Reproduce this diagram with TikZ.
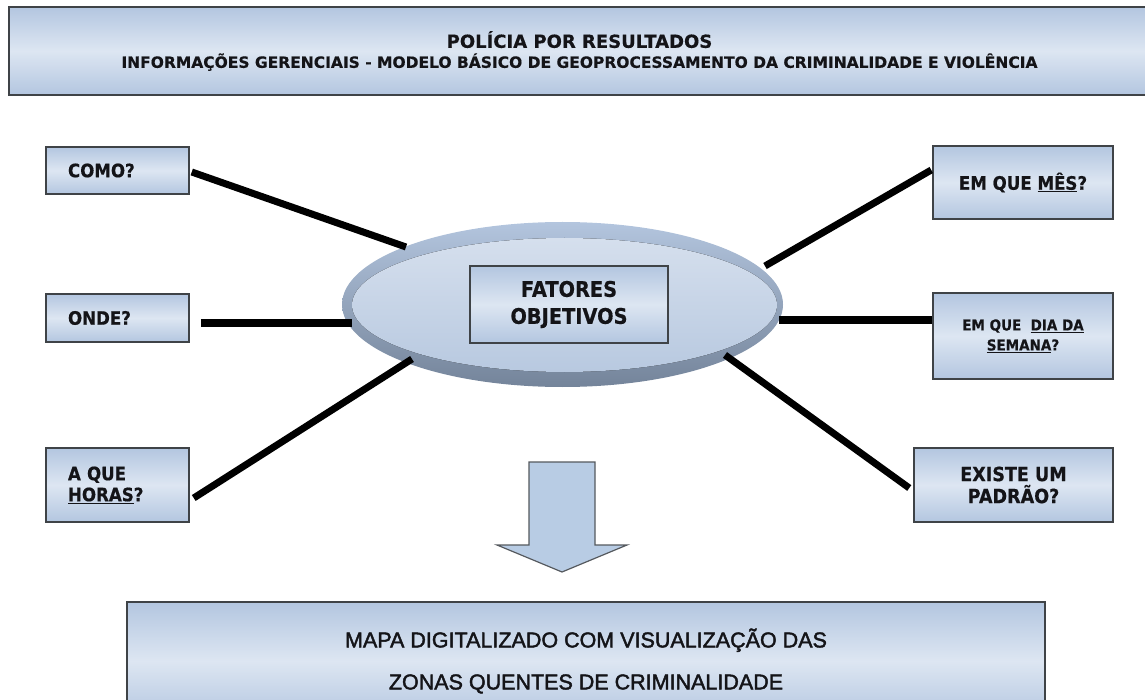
\documentclass[tikz,border=0pt]{standalone}
\usepackage{fontspec}
\setmainfont{DejaVu Sans}
\newfontfamily\qfont[FakeStretch=0.9,FakeBold=0.5]{DejaVu Sans Bold}
\newfontfamily\tfont[FakeBold=0.4]{DejaVu Sans Bold}
\newfontfamily\arialf[FakeBold=2]{Liberation Sans}
\usetikzlibrary{shapes.geometric,calc}
\definecolor{bdark}{HTML}{B3C6E0}
\definecolor{blight}{HTML}{DDE6F2}
\definecolor{edgec}{HTML}{3F4347}
\definecolor{discTop}{HTML}{B3C5DE}
\definecolor{discBot}{HTML}{74849A}
\definecolor{faceTop}{HTML}{D5DFED}
\definecolor{faceMid}{HTML}{D0DCEB}
\definecolor{faceBot}{HTML}{B8C9E0}
\definecolor{arrowfill}{HTML}{B8CCE4}
\definecolor{arrowedge}{HTML}{55595E}
\definecolor{ink}{HTML}{141418}
\begin{document}
\begin{tikzpicture}[x=1pt,y=-1pt,
  qbox/.style={draw=edgec, line width=1.5pt, rectangle, top color=bdark, bottom color=bdark, middle color=blight, text=ink, inner sep=0pt},
  leftq/.style={qbox, minimum width=143, align=left, text width=99, inner xsep=22pt, font=\qfont\fontsize{18.5}{21}\selectfont},
  rightq/.style={qbox, align=center, font=\qfont\fontsize{18.5}{21}\selectfont},
  link/.style={line width=7pt, black},
  hlink/.style={line width=8.5pt, black},
]
\useasboundingbox (0,0) rectangle (1145,700);

% title
\node[qbox, minimum width=1141, minimum height=88, align=center, font=\tfont\fontsize{16}{20}\selectfont] (title) at (579.5,51)
  {\raisebox{2pt}{\fontsize{18}{20}\selectfont POLÍCIA POR RESULTADOS}\\
   \raisebox{2pt}{\fontsize{15.5}{20}\selectfont INFORMAÇÕES GERENCIAIS - MODELO BÁSICO DE GEOPROCESSAMENTO DA CRIMINALIDADE E VIOLÊNCIA}};

% central disc
\node[ellipse, minimum width=441, minimum height=165, inner sep=0pt, top color=discTop, bottom color=discBot] (disc) at (562.5,304.5) {};
\fill[top color=faceTop, middle color=faceMid, bottom color=faceBot] (564.5,305) ellipse [x radius=212.5, y radius=67];
\node[qbox, minimum width=198, minimum height=77, align=center, font=\qfont\fontsize{21.5}{27}\selectfont] (fatores) at (569,304.5) {FATORES\\OBJETIVOS};

% left questions
\node[leftq, minimum height=47] (como) at (117.5,170.5) {COMO?};
\node[leftq, minimum height=48] (onde) at (117.5,318) {ONDE?};
\node[leftq, minimum height=74] (horas) at (117.5,485) {A QUE\\\underline{HORAS}?};

% right questions
\node[rightq, minimum width=180, minimum height=73] (mes) at (1023,182.5) {EM QUE \underline{MÊS}?};
\node[rightq, minimum width=180, minimum height=86, font=\qfont\fontsize{15}{20}\selectfont] (dia) at (1023,336) {EM QUE\ \ \underline{DIA DA}\\\underline{SEMANA}?};
\node[rightq, minimum width=199, minimum height=74, font=\qfont\fontsize{19.5}{22}\selectfont] (padrao) at (1013.5,485) {EXISTE UM\\PADRÃO?};

% connection points on the disc
\coordinate (d1) at (406,247);
\coordinate (d2) at (352,323);
\coordinate (d3) at (412,359);
\coordinate (d4) at (765,266);
\coordinate (d5) at (779,320);
\coordinate (d6) at (725,355);

\draw[link] ($(como.east)+(2,1.5)$) -- (d1);
\draw[hlink] ($(onde.east)+(11,5)$) -- (d2);
\draw[link] ($(horas.east)+(4,13)$) -- (d3);
\draw[link] (d4) -- ($(mes.west)+(-1,-12.5)$);
\draw[hlink] (d5) -- ($(dia.west)+(0,-16)$);
\draw[link] (d6) -- ($(padrao.west)+(-4,3)$);

% down arrow
\draw[draw=arrowedge, fill=arrowfill, line width=1.2pt, line join=miter]
  (529,462) -- (595,462) -- (595,545) -- (627,545) -- (562,572) -- (497,545) -- (529,545) -- cycle;

% result box
\node[qbox, minimum width=918, minimum height=118, align=center, font=\arialf\fontsize{21.5}{42}\selectfont] (mapa) at (586,661)
  {MAPA DIGITALIZADO COM VISUALIZAÇÃO DAS\\ZONAS QUENTES DE CRIMINALIDADE};
\end{tikzpicture}
\end{document}
